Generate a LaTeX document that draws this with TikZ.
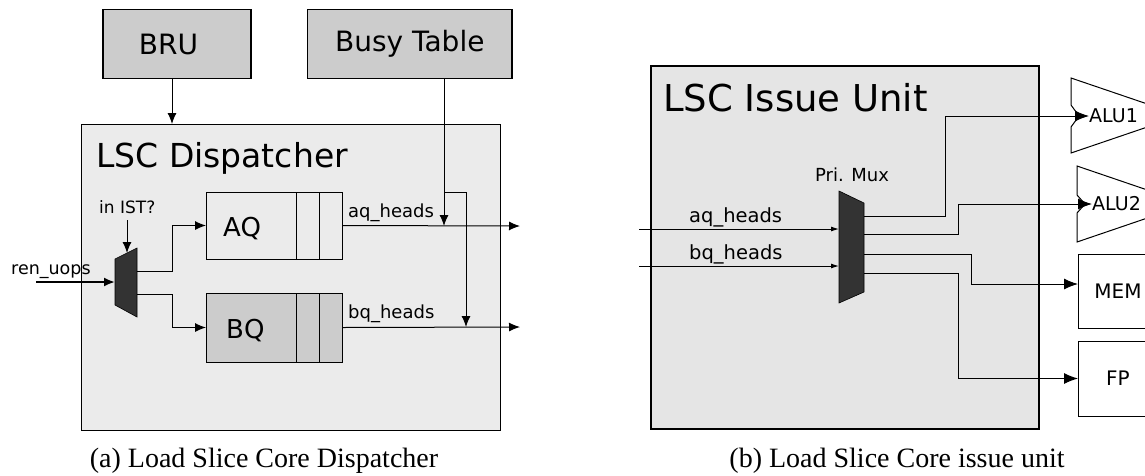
\documentclass[tikz,border=0pt]{standalone}
\usepackage{fontspec}
\usepackage{tikz}
\usetikzlibrary{arrows.meta , positioning}
\newfontfamily\dvsans{DejaVu Sans}
\newfontfamily\capserif{Liberation Serif}
\definecolor{boxgray}{HTML}{CCCCCC}
\definecolor{dispbg}{HTML}{EBEBEB}
\definecolor{issuebg}{HTML}{E5E5E5}
\definecolor{muxgray}{HTML}{333333}

\begin{document}
\begin{tikzpicture}[x = 1pt , y = -1pt ,
    unit/.style = {draw , line width = 1.2pt , fill = boxgray , minimum height = 69pt , inner sep = 0pt , outer sep = 0pt , font = \dvsans\fontsize{28}{34}\selectfont},
    queue/.style = {draw , line width = 1pt , minimum width = 136pt , inner sep = 0pt , outer sep = 0pt},
    fu/.style = {draw , line width = 1pt , fill = white , minimum width = 80pt , inner sep = 0pt , outer sep = 0pt , font = \dvsans\fontsize{20}{20}\selectfont},
    lbl/.style = {inner sep = 0pt , anchor = base west , font = \dvsans\fontsize{#1}{#1}\selectfont},
    subcap/.style = {inner sep = 0pt , anchor = base , font = \capserif\fontsize{28}{32}\selectfont},
    darr/.style = {line width = 1pt , -{Latex[length = 11pt , width = 9pt]}},
    iarr/.style = {line width = 1pt , -{Latex[length = 8pt , width = 5pt]}},
    oarr/.style = {line width = 1pt , -{Latex[length = 14pt , width = 11pt]}}]

    \useasboundingbox (0,0) rectangle (1145,475);
    \clip (0,0) rectangle (1145,475);

    % (a) dispatcher
    \node[unit , minimum width = 148pt] (bru) at (177,44) {};
    \node[inner sep = 0pt , font = \dvsans\fontsize{28}{34}\selectfont] (brutxt) at (168.5,44) {BRU};
    \node[unit , minimum width = 204.5pt] (busy) at (409.75,44) {Busy Table};
    \node[draw , line width = 1pt , fill = dispbg , minimum width = 419pt , minimum height = 306pt , outer sep = 0pt] (disp) at (290.5,277) {};
    \node[lbl = 33] (disptitle) at (96,167) {LSC Dispatcher};

    \node[queue , fill = dispbg , minimum height = 67pt] (aq) at (274,225.5) {};
    \node[queue , fill = boxgray , minimum height = 69pt] (bq) at (274,327.5) {};
    \foreach \q in {aq,bq}
        \foreach \dx in {90,113}
            \draw[line width = 1pt] ([xshift = \dx pt]\q.north west) -- ([xshift = \dx pt]\q.south west);
    \node[lbl = 26] (aqtxt) at (223,236) {AQ};
    \node[lbl = 26] (bqtxt) at (226,338) {BQ};

    \filldraw[fill = muxgray , line width = 0.6pt] (115,259) -- (137,248) -- (137,317) -- (115,305) -- cycle; % mux
    \coordinate (dmuxin) at (115,282);
    \coordinate (dmuxsel) at (127,253);
    \coordinate (dmuxa) at (137,271);
    \coordinate (dmuxb) at (137,294);
    \coordinate (renin) at (36,282);
    \coordinate (istsrc) at (127,220);

    \node[lbl = 17.5] (renlbl) at (11,274) {ren\_uops};
    \node[lbl = 17] (istlbl) at (99,213) {in IST?};
    \draw[darr , line width = 2pt] (renin) -- (dmuxin);
    \draw[darr] (istsrc) -- (dmuxsel);
    \draw[darr] (dmuxa) -- ++(35,0) |- (aq.west);
    \draw[darr] (dmuxb) -- ++(35,0) |- (bq.west);

    \draw[darr] (bru.south -| 172,0) -- (disp.north -| 172,0);

    \coordinate (aqtap) at (444,226);
    \coordinate (bqtap) at (466,327);
    \coordinate (aqout) at (520,226);
    \coordinate (bqout) at (520,327);
    \draw[darr] (aq.east) -- (aqout);
    \draw[darr] (bq.east) -- (bqout);
    \draw[darr] (busy.south -| aqtap) -- (aqtap);
    \draw[darr] (aqtap |- aq.north) -| (bqtap);
    \node[lbl = 18] (aqlbl) at (348,217) {aq\_heads};
    \node[lbl = 18] (bqlbl) at (348,318) {bq\_heads};

    \node[subcap] (capa) at (264,467) {(a) Load Slice Core Dispatcher};

    % (b) issue unit
    \node[draw , line width = 2.5pt , fill = issuebg , minimum width = 388pt , minimum height = 363pt , outer sep = 0pt] (issue) at (845,247.5) {};
    \node[lbl = 37] (issuetitle) at (663,111) {LSC Issue Unit};
    \node[inner sep = 0pt , anchor = base , font = \dvsans\fontsize{18}{18}\selectfont] (muxlbl) at (852,181) {Pri. Mux};

    \filldraw[fill = muxgray , line width = 0.6pt] (839,191) -- (864,203) -- (864,292) -- (839,303) -- cycle; % mux
    \coordinate (imuxa) at (839,229);
    \coordinate (imuxb) at (839,266);
    \coordinate (imuxo1) at (864,216);
    \coordinate (imuxo2) at (864,234);
    \coordinate (imuxo3) at (864,254);
    \coordinate (imuxo4) at (864,273);
    \coordinate (ain) at (639,229);
    \coordinate (bin) at (639,266);

    \draw[iarr] (ain) -- (imuxa);
    \draw[iarr] (bin) -- (imuxb);
    \node[lbl = 19.5] (ialbl) at (689,222) {aq\_heads};
    \node[lbl = 19.5] (iblbl) at (689,259) {bq\_heads};

    % functional units
    \filldraw[fill = white , line width = 1pt] (1071,78) -- (1165,110) -- (1165,121) -- (1071,153) -- (1071,127) -- (1079,116) -- (1071,105) -- cycle;
    \filldraw[fill = white , line width = 1pt] (1077,166) -- (1165,196) -- (1165,212) -- (1077,242) -- (1077,213) -- (1085,204) -- (1077,195) -- cycle;
    \node[inner sep = 0pt , anchor = west , font = \dvsans\fontsize{19}{19}\selectfont] (alu1) at (1089,116) {ALU1};
    \node[inner sep = 0pt , anchor = west , font = \dvsans\fontsize{19}{19}\selectfont] (alu2) at (1092,204) {ALU2};
    \node[fu , minimum height = 74pt] (mem) at (1118,291) {MEM};
    \node[fu , minimum height = 75pt] (fp) at (1118,378.5) {FP};

    \draw[oarr] (imuxo1) -- ++(81,0) |- (alu1.west);
    \draw[oarr] (imuxo2) -- ++(94,0) |- (alu2.west);
    \draw[oarr] (imuxo3) -- ++(107,0) |- ([yshift = 7pt]mem.west);
    \draw[oarr] (imuxo4) -- ++(94,0) |- (fp.west);

    \node[subcap] (capb) at (897,467) {(b) Load Slice Core issue unit};
\end{tikzpicture}
\end{document}
